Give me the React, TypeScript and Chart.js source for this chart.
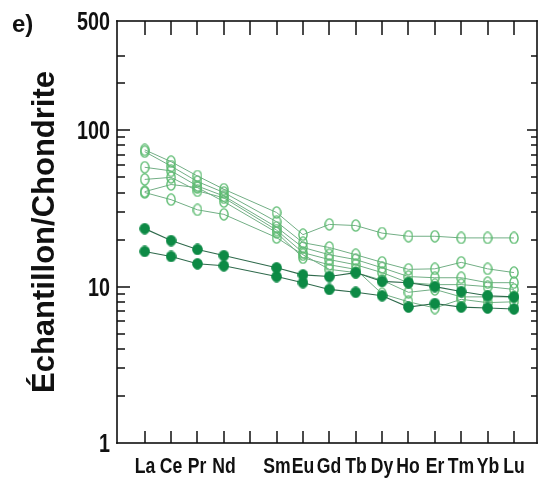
import React, { useEffect, useRef } from "react";
import { Chart, registerables } from "chart.js";

Chart.register(...registerables);

// Rare earth elements in atomic order (Pm is left blank on the axis)
const elements = ["La", "Ce", "Pr", "Nd", "Pm", "Sm", "Eu", "Gd", "Tb", "Dy", "Ho", "Er", "Tm", "Yb", "Lu"];
const elementLabels = ["La", "Ce", "Pr", "Nd", "", "Sm", "Eu", "Gd", "Tb", "Dy", "Ho", "Er", "Tm", "Yb", "Lu"];
const yTickValues = [1, 10, 100, 500];
const yMajorInner = [10, 100];
const yMinorValues = [2, 3, 4, 5, 6, 7, 8, 9, 20, 30, 40, 50, 60, 70, 80, 90, 200, 300];

// Chondrite-normalised samples, open symbols
const openS1 = [75, 63, 51, 42, null, 29.8, 21.5, 25, 24.6, 22, 21, 21, 20.5, 20.5, 20.5];
const openS2 = [73, 59, 47, 40, null, 26, 19.1, 17.8, 16, 14.3, 12.9, 13, 14.3, 13, 12.3];
const openS3 = [58, 55, 44, 38, null, 24, 17.8, 16, 14.9, 13.2, 11.6, 11.4, 11.4, 10.6, 10.6];
const openS4 = [48.5, 50, 41, 37, null, 23, 16.5, 14.9, 13.8, 12.3, 10.6, 10.3, 10.3, 10.0, 9.6];
const openS5 = [40.5, 45, 43, 35, null, 22.2, 15.3, 13.8, 12.9, 9.0, 8.0, 7.3, 8.3, 7.9, 8.0];
const openS6 = [40, 36, 31, 29, null, 20.6, 16, 12.9, 12.3, 11, 9.2, 9.6, 8.6, 8.6, 8.6];

// Chondrite-normalised samples, filled symbols
const filledS1 = [23.5, 19.7, 17.3, 15.8, null, 13.2, 11.9, 11.6, 12.3, 10.8, 10.6, 10.0, 9.3, 8.75, 8.6];
const filledS2 = [16.8, 15.6, 14.0, 13.6, null, 11.6, 10.6, 9.6, 9.2, 8.75, 7.4, 7.8, 7.4, 7.3, 7.2];

const openSeries = [openS1, openS2, openS3, openS4, openS5, openS6];
const filledSeries = [filledS1, filledS2];

const SANS = "'Liberation Sans', Arial, sans-serif";

function ellipseMarker(w: number, h: number, stroke: string, fill: string | null, lw: number) {
  const c = document.createElement("canvas");
  c.width = w;
  c.height = h;
  const g = c.getContext("2d")!;
  g.beginPath();
  g.ellipse(w / 2, h / 2, w / 2 - lw / 2 - 0.2, h / 2 - lw / 2 - 0.2, 0, 0, Math.PI * 2);
  if (fill) {
    g.fillStyle = fill;
    g.fill();
  }
  g.strokeStyle = stroke;
  g.lineWidth = lw;
  g.stroke();
  return c;
}

const toPoints = (vals: (number | null)[]) => vals.map((v, i) => ({ x: i, y: v }));

// Condensed bold text, like a narrow sans face
function narrowText(ctx: CanvasRenderingContext2D, text: string, x: number, y: number, size: number, sx: number, align: CanvasTextAlign) {
  ctx.save();
  ctx.translate(x, y);
  ctx.scale(sx, 1);
  ctx.font = `bold ${size}px ${SANS}`;
  ctx.textAlign = align;
  ctx.textBaseline = "alphabetic";
  ctx.fillText(text, 0, 0);
  ctx.restore();
}

const framePlugin = {
  id: "frameTicks",
  afterDraw(chart: any) {
    const ctx: CanvasRenderingContext2D = chart.ctx;
    const a = chart.chartArea;
    const xs = chart.scales.x;
    const ys = chart.scales.y;
    const L = Math.round(a.left);
    const R = Math.round(a.right);
    const T = Math.round(a.top);
    const B = Math.round(a.bottom);
    ctx.save();
    ctx.globalAlpha = 1;
    ctx.fillStyle = "#4a4a4a";
    // inward tick marks, top and bottom
    const xTickPx = elements.map((_, i) => Math.round(xs.getPixelForValue(i)));
    xTickPx.forEach((px) => {
      ctx.fillRect(px - 1, B - 12, 2, 12);
      ctx.fillRect(px - 1, T, 2, 14);
    });
    // inward tick marks, left and right
    yMajorInner.forEach((v) => {
      const py = Math.round(ys.getPixelForValue(v));
      ctx.fillRect(L, py - 1, 13, 2);
      ctx.fillRect(R - 10, py - 1, 10, 2);
    });
    yMinorValues.forEach((v) => {
      const py = Math.round(ys.getPixelForValue(v));
      ctx.fillRect(L, py - 1, 8, 2);
      ctx.fillRect(R - 6, py - 1, 6, 2);
    });
    // frame
    ctx.fillStyle = "#111";
    ctx.fillRect(L - 0.8, T - 0.8, R - L + 1.6, 1.6);
    ctx.fillRect(L - 0.8, B - 0.8, R - L + 1.6, 1.6);
    ctx.fillRect(L - 0.8, T - 0.8, 1.6, B - T + 1.6);
    ctx.fillRect(R - 0.8, T - 0.8, 1.6, B - T + 1.6);

    // element names under the axis
    elementLabels.forEach((lab, i) => {
      if (!lab) return;
      narrowText(ctx, lab, xTickPx[i], B + 30, 22, 0.8, "center");
    });
    // log axis values
    yTickValues.forEach((v) => {
      narrowText(ctx, String(v), L - 7, ys.getPixelForValue(v) + 9, 25, 0.79, "right");
    });
    // panel letter
    ctx.font = `bold 24px ${SANS}`;
    ctx.textAlign = "left";
    ctx.textBaseline = "alphabetic";
    ctx.fillText("e)", 12, 32);
    ctx.restore();
  },
};

export default function App() {
  const ref = useRef<HTMLCanvasElement | null>(null);

  useEffect(() => {
    if (!ref.current) return;
    const openMarker = ellipseMarker(10, 13, "#5cbb70", null, 1.4);
    const filledMarker = ellipseMarker(11, 12, "#0d8a45", "#0d8a45", 1);

    const datasets: any[] = [
      ...filledSeries.map((vals, k) => ({
        label: `filled-${k + 1}`,
        data: toPoints(vals),
        borderColor: "#2f6a4c",
        borderWidth: 1.1,
        pointStyle: filledMarker,
        spanGaps: true,
        order: 0,
      })),
      ...openSeries.map((vals, k) => ({
        label: `open-${k + 1}`,
        data: toPoints(vals),
        borderColor: "#72ae85",
        borderWidth: 1,
        pointStyle: openMarker,
        spanGaps: true,
        order: 1,
      })),
    ];

    const chart = new Chart(ref.current, {
      type: "line",
      data: { datasets },
      plugins: [framePlugin],
      options: {
        responsive: false,
        animation: false,
        events: [],
        layout: { padding: { top: 21, right: 3, left: 0, bottom: 0 } },
        plugins: { legend: { display: false }, tooltip: { enabled: false } },
        scales: {
          x: {
            type: "linear",
            min: -1.05,
            max: 14.87,
            grid: { display: false, drawTicks: false },
            border: { display: false },
            afterBuildTicks: (scale: any) => {
              scale.ticks = elements.map((_, i) => ({ value: i }));
            },
            afterFit: (scale: any) => {
              scale.height = 38;
            },
            ticks: { display: false },
          },
          y: {
            type: "logarithmic",
            min: 1,
            max: 500,
            grid: { display: false, drawTicks: false },
            border: { display: false },
            afterBuildTicks: (scale: any) => {
              scale.ticks = yTickValues.map((v) => ({ value: v }));
            },
            afterFit: (scale: any) => {
              scale.width = 117;
            },
            ticks: { display: false },
            title: {
              display: true,
              text: "Échantillon/Chondrite",
              color: "#111",
              font: { family: SANS, size: 31, weight: "bold" },
              padding: { top: 27, bottom: 0 },
            },
          },
        },
      },
    } as any);

    return () => chart.destroy();
  }, []);

  return (
    <div style={{ position: "fixed", left: 0, top: 0, width: 542, height: 481, background: "#fff" }}>
      <canvas ref={ref} width={542} height={481} style={{ display: "block", width: 542, height: 481 }} />
    </div>
  );
}
